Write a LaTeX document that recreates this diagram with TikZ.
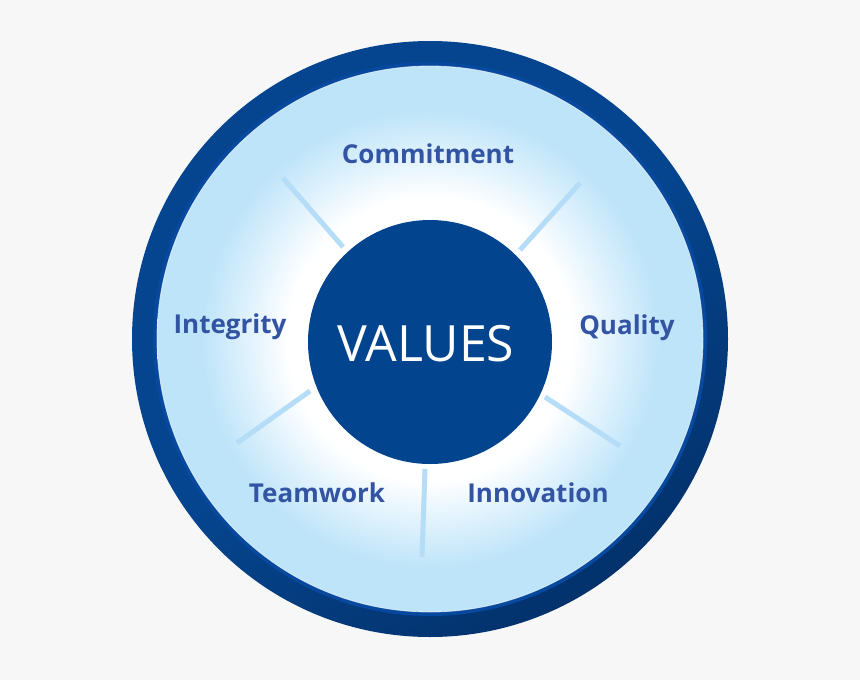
\documentclass[tikz,border=0pt]{standalone}
\usepackage{fontspec}
\setmainfont{Open Sans}
\definecolor{bg}{HTML}{F7F7F7}
\definecolor{ringblue}{HTML}{05458F}
\definecolor{ringdark}{HTML}{03326C}
\definecolor{bevelblue}{HTML}{0849A0}
\definecolor{lightblue}{HTML}{BEE4F9}
\definecolor{paleblue}{HTML}{E2F3FD}
\definecolor{spokeblue}{HTML}{B5DDF7}
\definecolor{coreblue}{HTML}{03448F}
\definecolor{labelblue}{HTML}{3354A3}
\pgfdeclareradialshading{glow}{\pgfpoint{0bp}{0bp}}{color(0bp)=(white); color(13bp)=(white); color(16.5bp)=(paleblue); color(21bp)=(lightblue); color(50bp)=(lightblue)}
\begin{document}
\begin{tikzpicture}[x=1pt,y=-1pt,
  lbl/.style={font=\fontsize{26}{30}\selectfont\bfseries, text=labelblue, anchor=base, inner sep=0pt},
  spoke/.style={draw=spokeblue, line width=5pt},
  core/.style={circle, fill=coreblue, minimum size=244pt, inner sep=0pt}]
\useasboundingbox (0,0) rectangle (860,680);
\fill[bg] (0,0) rectangle (860,680);
\coordinate (c) at (430,339);
% outer ring
\shade[even odd rule, top color=ringblue, bottom color=ringdark, middle color=ringblue, shading angle=35] (c) circle (298pt) (c) circle (272pt);
\draw[bevelblue, line width=4pt] (c) circle (275pt);
% light face
\shade[shading=glow] (c) circle (273pt);
\draw[white, opacity=0.6, line width=0.8pt] (c) circle (273pt);
% spokes
\coordinate (s1a) at (343,247); \coordinate (s1b) at (283,178);
\coordinate (s2a) at (520,250); \coordinate (s2b) at (580,183);
\coordinate (s3a) at (545,397); \coordinate (s3b) at (620,446);
\coordinate (s4a) at (310,391); \coordinate (s4b) at (237,443);
\coordinate (s5a) at (425,469); \coordinate (s5b) at (422,557);
\draw[spoke] (s1a) -- (s1b);
\draw[spoke] (s2a) -- (s2b);
\draw[spoke] (s3a) -- (s3b);
\draw[spoke] (s4a) -- (s4b);
\draw[spoke] (s5a) -- (s5b);
% core
\node[core] (hub) at (430,342) {};
\node[font=\fontsize{50}{55}\selectfont, text=white, anchor=base, inner sep=0pt] (values) at (426,361) {VALUES};
% labels
\node[lbl] (commitment) at (428,163) {Commitment};
\node[lbl] (integrity) at (230,333) {Integrity};
\node[lbl] (quality) at (627,334) {Quality};
\node[lbl] (teamwork) at (317,502) {Teamwork};
\node[lbl] (innovation) at (538,502) {Innovation};
\end{tikzpicture}
\end{document}
